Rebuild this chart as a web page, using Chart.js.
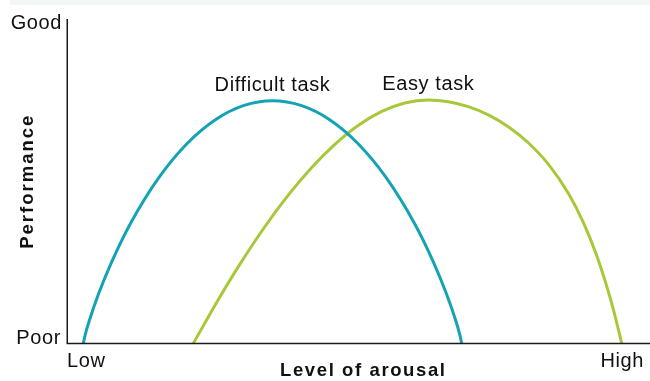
<!DOCTYPE html>
<html>
<head>
<meta charset="utf-8">
<script src="https://cdn.jsdelivr.net/npm/chart.js@4/dist/chart.umd.min.js"></script>
<style>
  html, body { margin: 0; padding: 0; background: #ffffff; }
  #wrap { width: 650px; height: 381px; position: relative; }
</style>
</head>
<body>
<div id="wrap"><canvas id="c" width="650" height="381"></canvas></div>
<script>
// ---- Data (x: arousal 0-100, y: performance 0-100) ----
const seriesNames = ['Difficult task', 'Easy task'];
const difficultX = [2.80, 3.12, 3.78, 5.40, 7.67, 10.91, 15.78, 20.65, 25.52, 30.38, 35.25,
                    40.12, 44.99, 49.85, 54.72, 59.59, 62.83, 65.10, 66.73, 67.38, 67.70];
const difficultY = [0, 2.68, 6.76, 15.23, 25.16, 37.06, 51.20, 61.73, 69.06, 73.38, 74.82,
                    73.38, 69.06, 61.73, 51.20, 37.06, 25.16, 15.23, 6.76, 2.68, 0];
const easyX = [21.66, 25.69, 29.72, 33.75, 37.78, 41.82, 45.85, 49.88, 53.91, 57.94, 61.97,
               65.40, 68.83, 72.26, 75.69, 79.12, 82.56, 85.99, 88.56, 90.79, 92.50, 93.88, 95.15];
const easyY = [0, 12.74, 24.61, 35.52, 45.32, 53.94, 61.23, 67.11, 71.44, 74.12, 75.04,
               74.53, 73.01, 70.47, 66.81, 61.87, 55.26, 46.28, 37.32, 27.45, 18.13, 9.36, 0];
const yTickLabels = ['Poor', 'Good'];
const xTickLabels = ['Low', 'High'];
const xTitle = 'Level of arousal';
const yTitle = 'Performance';
const colors = ['#13a3b3', '#a8c83a'];

function toPoints(xs, ys) { return xs.map((x, i) => ({ x: x, y: ys[i] })); }

const textPlugin = {
  id: 'textPlugin',
  beforeDraw(chart) {
    const ctx = chart.ctx;
    ctx.save();
    ctx.fillStyle = '#ffffff';
    ctx.fillRect(0, 0, chart.width, chart.height);
    ctx.fillStyle = '#f2f6f7';
    ctx.fillRect(10, 0, chart.width - 10, 5);
    ctx.restore();
  },
  afterDatasetsDraw(chart) {
    const ctx = chart.ctx;
    const ca = chart.chartArea;
    ctx.save();
    ctx.strokeStyle = '#1a1a1a';
    ctx.lineWidth = 1.5;
    ctx.beginPath();
    ctx.moveTo(ca.left + 0.25, ca.top);
    ctx.lineTo(ca.left + 0.25, ca.bottom + 0.75);
    ctx.moveTo(ca.left, ca.bottom);
    ctx.lineTo(ca.right, ca.bottom);
    ctx.stroke();
    ctx.restore();
  },
  afterDraw(chart) {
    const ctx = chart.ctx;
    const ca = chart.chartArea;
    const xs = chart.scales.x, ys = chart.scales.y;
    ctx.save();
    ctx.fillStyle = '#111111';
    const reg = '20px "Liberation Sans", Arial, sans-serif';
    const bold = 'bold 18.5px "Liberation Sans", Arial, sans-serif';
    ctx.textBaseline = 'alphabetic';
    ctx.font = reg;
    ctx.letterSpacing = '0.6px';
    // y ticks
    ctx.textAlign = 'right';
    ctx.fillText(yTickLabels[1], ca.left - 5, ys.getPixelForValue(100) + 9.5);
    ctx.fillText(yTickLabels[0], ca.left - 6, ys.getPixelForValue(0) + 0.5);
    // x ticks
    ctx.textAlign = 'left';
    ctx.fillText(xTickLabels[0], xs.getPixelForValue(0), ca.bottom + 23);
    ctx.textAlign = 'right';
    ctx.fillText(xTickLabels[1], ca.right - 6, ca.bottom + 23);
    // series labels above peaks
    chart.data.datasets.forEach((ds, i) => {
      let best = ds.data[0];
      ds.data.forEach(p => { if (p.y > best.y) best = p; });
      ctx.textAlign = 'center';
      ctx.fillText(seriesNames[i], xs.getPixelForValue(best.x), ys.getPixelForValue(best.y) - 9.5);
    });
    // axis titles
    ctx.font = bold;
    ctx.letterSpacing = '1.6px';
    ctx.textAlign = 'center';
    ctx.fillText(xTitle, (ca.left + ca.right) / 2 + 4.8, ca.bottom + 32);
    ctx.save();
    ctx.letterSpacing = '2px';
    ctx.translate(33, (ca.top + ca.bottom) / 2);
    ctx.rotate(-Math.PI / 2);
    ctx.fillText(yTitle, 0, 0);
    ctx.restore();
    ctx.restore();
  }
};

new Chart(document.getElementById('c'), {
  type: 'line',
  data: {
    datasets: [
      { label: seriesNames[0], data: toPoints(difficultX, difficultY), borderColor: colors[0],
        borderWidth: 3, pointRadius: 0, cubicInterpolationMode: 'monotone', fill: false },
      { label: seriesNames[1], data: toPoints(easyX, easyY), borderColor: colors[1],
        borderWidth: 3, pointRadius: 0, cubicInterpolationMode: 'monotone', fill: false }
    ]
  },
  options: {
    responsive: false,
    animation: false,
    layout: { padding: { left: 67, top: 19, right: 0, bottom: 37.5 } },
    plugins: { legend: { display: false }, tooltip: { enabled: false } },
    scales: {
      x: { type: 'linear', min: 0, max: 100, display: false },
      y: { type: 'linear', min: 0, max: 100, display: false }
    }
  },
  plugins: [textPlugin]
});
</script>
</body>
</html>
